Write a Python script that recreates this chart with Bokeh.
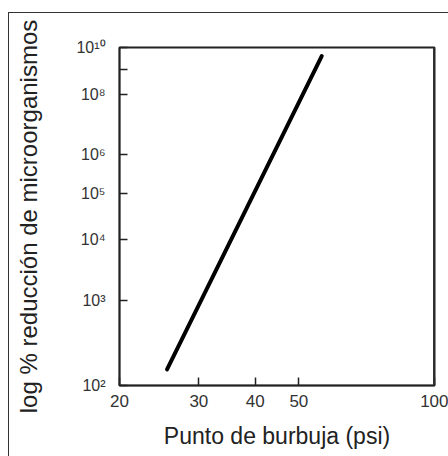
from bokeh.plotting import figure
from bokeh.models import FixedTicker, Range1d, Span
from bokeh.embed import file_html
from bokeh.resources import INLINE

# Data
bubble_point_psi = [25.5, 56.2]          # x: Punto de burbuja (psi)
log_reduction_exp = [2.16, 9.6]          # y: exponent n of 10^n reduction

x_ticks = [20, 30, 40, 50, 100]
x_labels = ["20", "30", "40", "50", "100"]
y_ticks = [2, 3, 4, 5, 6, 8, 9, 10]
y_labels = ["10²", "10³", "10⁴", "10⁵", "10⁶", "10⁸", "", "10¹⁰"]

p = figure(width=440, height=444, x_axis_type="log", y_axis_type="log",
           x_range=Range1d(20, 100), y_range=Range1d(2, 10),
           output_backend="svg", toolbar_location=None,
           min_border_left=110, min_border_top=34, min_border_right=15,
           min_border_bottom=72)
p.margin = (12, 0, 0, 8)
p.styles = {"border-left": "1px solid #333", "border-top": "1px solid #333"}

p.line(bubble_point_psi, log_reduction_exp, line_width=4, line_color="black",
       line_cap="round")

p.grid.visible = False
p.outline_line_color = "#222"
p.outline_line_width = 2
p.add_layout(Span(location=x_ticks[-1], dimension="height",
                  line_color="#333", line_width=3))

font = "Liberation Sans"
p.xaxis.ticker = FixedTicker(ticks=x_ticks)
p.xaxis.major_label_overrides = {t: l for t, l in zip(x_ticks, x_labels)}
p.yaxis.ticker = FixedTicker(ticks=y_ticks)
p.yaxis.major_label_overrides = {t: l for t, l in zip(y_ticks, y_labels)}

for ax in (p.xaxis[0], p.yaxis[0]):
    ax.axis_line_color = "#222"
    ax.axis_line_width = 1.5
    ax.major_tick_in = 8
    ax.major_tick_out = 0
    ax.major_tick_line_color = "#222"
    ax.major_tick_line_width = 1.5
    ax.minor_tick_line_color = None
    ax.major_label_text_font = font
    ax.major_label_text_color = "#333"
    ax.axis_label_text_font = font
    ax.axis_label_text_font_style = "normal"
    ax.axis_label_text_color = "#222"

p.xaxis.major_label_text_font_size = "17px"
p.yaxis.major_label_text_font_size = "16px"
p.xaxis.axis_label = "Punto de burbuja (psi)"
p.xaxis.axis_label_text_font_size = "23px"
p.xaxis.major_label_standoff = 9
p.xaxis.axis_label_standoff = 13
p.yaxis.axis_label = "log % reducción de microorganismos"
p.yaxis.axis_label_text_font_size = "24px"
p.yaxis.major_label_standoff = 14
p.yaxis.axis_label_standoff = 31

open("out.html", "w").write(file_html(p, INLINE))
